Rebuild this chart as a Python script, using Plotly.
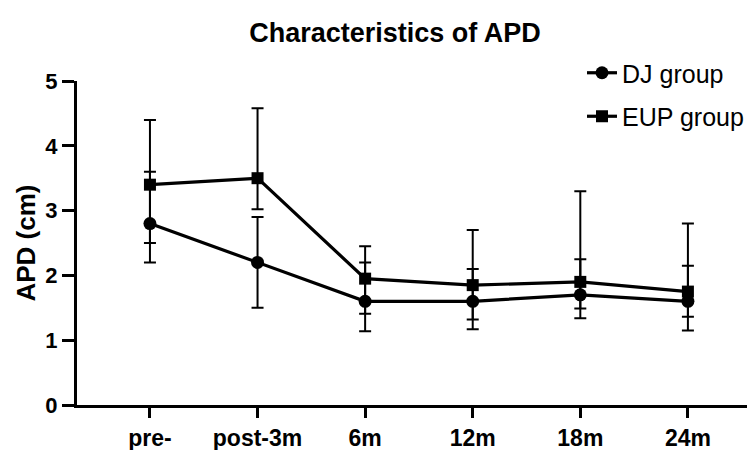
import plotly.graph_objects as go

categories = ["pre-", "post-3m", "6m", "12m", "18m", "24m"]
x_idx = list(range(len(categories)))

dj_mean = [2.8, 2.2, 1.6, 1.6, 1.7, 1.6]
dj_upper = [3.6, 2.9, 2.2, 2.1, 2.25, 2.15]
dj_lower = [2.2, 1.5, 1.14, 1.17, 1.34, 1.15]

eup_mean = [3.4, 3.5, 1.95, 1.85, 1.9, 1.75]
eup_upper = [4.4, 4.58, 2.45, 2.7, 3.3, 2.8]
eup_lower = [2.5, 3.02, 1.41, 1.32, 1.49, 1.36]

y_ticks = [0, 1, 2, 3, 4, 5]

def err(mean, up, lo):
    return [u - m for u, m in zip(up, mean)], [m - l for m, l in zip(mean, lo)]

dj_p, dj_m = err(dj_mean, dj_upper, dj_lower)
eup_p, eup_m = err(eup_mean, eup_upper, eup_lower)

FONT = "Liberation Sans, Arial, sans-serif"

# page body has an 8px margin; figure sized to fill the remaining window
OFF = 8
W, H = 755 - OFF, 450 - OFF
L, R, T, B = 77 - OFF, 2, 81 - OFF, H - (405 - OFF)
PW, PH = W - L - R, H - T - B

fig = go.Figure()
fig.add_trace(go.Scatter(
    x=x_idx, y=dj_mean, name="DJ group", mode="lines+markers",
    line=dict(color="black", width=3.2),
    marker=dict(symbol="circle", size=13, color="black"),
    error_y=dict(type="data", symmetric=False, array=dj_p, arrayminus=dj_m,
                 color="black", thickness=2, width=6),
    legendgroup="a", cliponaxis=False,
))
fig.add_trace(go.Scatter(
    x=x_idx, y=eup_mean, name="EUP group", mode="lines+markers",
    line=dict(color="black", width=3.2),
    marker=dict(symbol="square", size=12, color="black"),
    error_y=dict(type="data", symmetric=False, array=eup_p, arrayminus=eup_m,
                 color="black", thickness=2, width=6),
    legendgroup="b", cliponaxis=False,
))

fig.update_layout(
    width=W, height=H,
    margin=dict(l=L, r=R, t=T, b=B, autoexpand=False),
    plot_bgcolor="white", paper_bgcolor="white",
    font=dict(family=FONT, color="black"),
    title=dict(text="<b>Characteristics of APD</b>", x=(395 - OFF) / W, xref="container",
               xanchor="center", y=1 - (33 - OFF) / H, yanchor="middle",
               font=dict(size=27, family=FONT, color="black")),
    legend=dict(x=(574 - L) / PW, xanchor="left", y=1 + (T - (50 - OFF)) / PH, yanchor="top",
                font=dict(size=25, family=FONT, color="black"),
                traceorder="grouped", tracegroupgap=8,
                bgcolor="rgba(0,0,0,0)", itemwidth=30),
    showlegend=True,
)

fig.update_xaxes(
    range=[-0.678, 5.605], tickmode="array", tickvals=x_idx,
    ticktext=[f"<b>{c}</b>" for c in categories], automargin=False,
    showline=True, linecolor="black", linewidth=3, showgrid=False, zeroline=False,
    ticks="outside", ticklen=10, tickwidth=3, tickcolor="black",
    tickfont=dict(size=23, family=FONT, color="black"),
)
fig.update_yaxes(
    range=[0, 5], tickmode="array", tickvals=y_ticks,
    ticktext=[f"<b>{v}</b>" for v in y_ticks], automargin=False,
    showline=True, linecolor="black", linewidth=3, showgrid=False, zeroline=False,
    ticks="outside", ticklen=12, tickwidth=3, tickcolor="black",
    tickfont=dict(size=22, family=FONT, color="black"),
    title=dict(text="<b>APD (cm)</b>", font=dict(size=26, family=FONT, color="black"), standoff=3),
)

fig.write_html("out.html")
